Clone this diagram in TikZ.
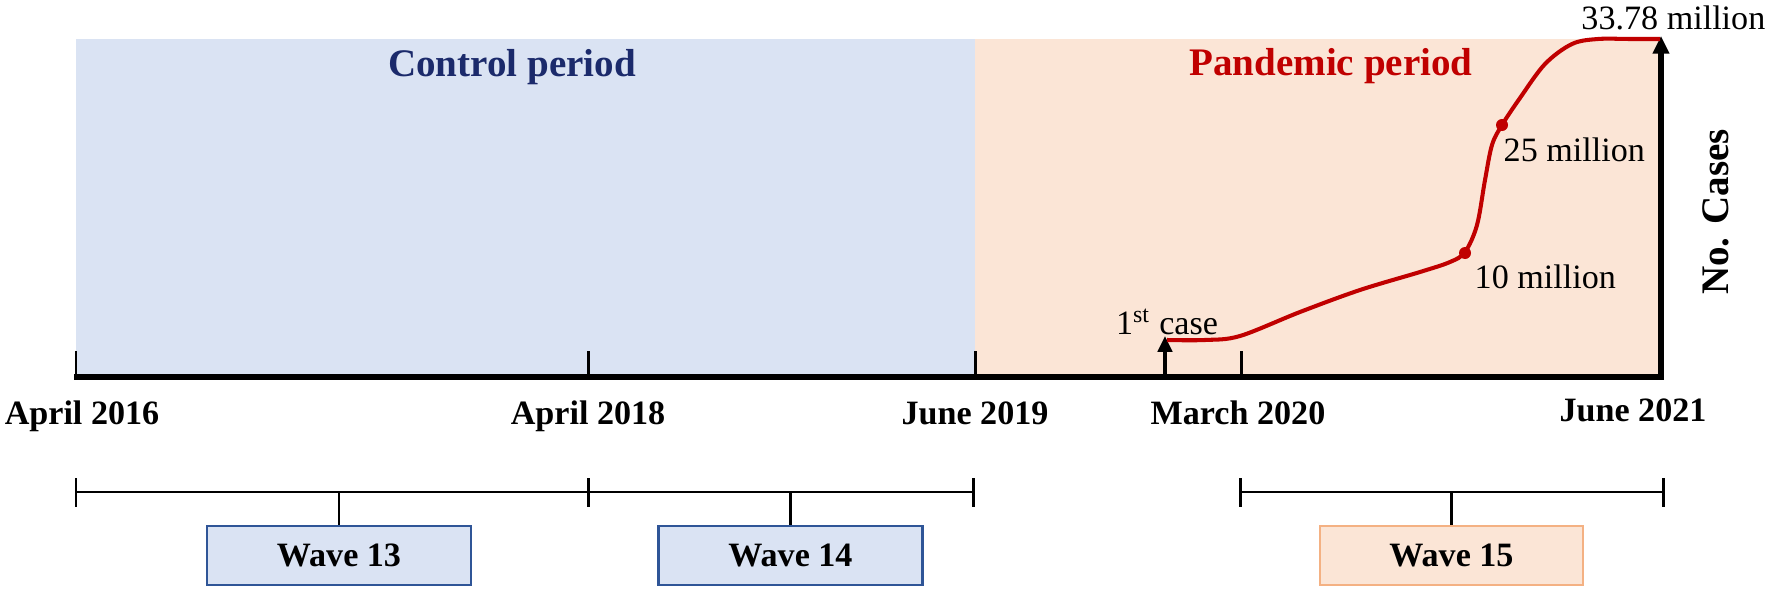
\documentclass[tikz,border=0pt]{standalone}
\usepackage{fontspec}
\setmainfont{Liberation Serif}
\usetikzlibrary{arrows.meta,calc}
\definecolor{ctrlbg}{HTML}{DAE3F3}
\definecolor{pandbg}{HTML}{FBE5D6}
\definecolor{navytxt}{HTML}{1B2A6B}
\definecolor{darkredc}{HTML}{C00000}
\definecolor{boxblue}{HTML}{2F5597}
\definecolor{boxorange}{HTML}{F4B183}
\begin{document}
\begin{tikzpicture}[x=0.01cm,y=-0.01cm,
  bigbold/.style={font=\fontsize{11.1}{13}\selectfont\bfseries, inner sep=0pt},
  datelbl/.style={font=\fontsize{9.7}{11}\selectfont\bfseries, inner sep=0pt, anchor=base},
  normlbl/.style={font=\fontsize{9.7}{11}\selectfont, inner sep=0pt},
  axisline/.style={line width=1.7pt, black},
  tickline/.style={line width=0.85pt, black},
  bracketline/.style={line width=0.85pt, black},
  wavebox/.style={draw, line width=0.8pt, minimum width=2.64cm, minimum height=0.59cm, inner sep=0pt, font=\fontsize{9.7}{11}\selectfont\bfseries},
  curveline/.style={line width=1.15pt, darkredc},
  reddot/.style={circle, fill=darkredc, inner sep=0pt, minimum size=0.12cm}
]
\useasboundingbox (0,0) rectangle (1772,591);
% backgrounds
\fill[ctrlbg] (76,39) rectangle (975,377);
\fill[pandbg] (975,39) rectangle (1661,377);
% axis coordinates
\coordinate (a0) at (76,377);
\coordinate (a1) at (588,377);
\coordinate (a2) at (975,377);
\coordinate (a3) at (1241,377);
\coordinate (aend) at (1661,377);
\coordinate (atop) at (1661,36);
\coordinate (fc) at (1165,377);
\coordinate (fctop) at (1165,336);
% ticks
\foreach \c in {a0,a1,a2,a3}{\draw[tickline] (\c) -- ++(0,-26);}
% first case arrow
\draw[line width=1.4pt, -{Triangle[length=4.5pt,width=4pt]}] (fc) -- (fctop);
% main axis
\draw[axisline] ([xshift=-0.5pt]a0) -- ([xshift=0.85pt]aend);
\draw[line width=1.5pt, -{Triangle[length=5pt,width=4.5pt]}] ([yshift=-0.85pt]aend) -- (atop);
% curve
\draw[curveline] plot[smooth, tension=0.55] coordinates {(1167,340) (1205,340) (1240,336) (1300,312) (1360,290) (1420,272) (1450,262) (1465,252) (1477,225) (1485,180) (1492,145) (1502,125) (1520,98) (1545,64) (1572,44) (1598,39) (1630,39) (1660,39)};
\node[reddot] (d10) at (1465,253) {};
\node[reddot] (d25) at (1502,125) {};
% titles
\node[bigbold, text=navytxt, anchor=base] (ctrl) at (512,77) {Control period};
\node[bigbold, text=darkredc, anchor=base] (pand) at (1331,76) {Pandemic period};
\node[bigbold, rotate=90] (cases) at (1716,212) {No. Cases};
% curve labels
\node[normlbl, anchor=east] (top) at (1766,18) {33.78 million};
\node[normlbl, anchor=west] (l25) at (1503,150) {25 million};
\node[normlbl, anchor=west] (l10) at (1474,277) {10 million};
\node[normlbl] (first) at (1167,322) {1\textsuperscript{st} case};
% dates
\node[datelbl] (d2016) at (82,425) {April 2016};
\node[datelbl] (d2018) at (588,425) {April 2018};
\node[datelbl] (d2019) at (975,425) {June 2019};
\node[datelbl] (d2020) at (1238,425) {March 2020};
\node[datelbl] (d2021) at (1633,421) {June 2021};
% brackets
\coordinate (b0) at (76,492);
\coordinate (b1) at (588,492);
\coordinate (b2) at (973,492);
\coordinate (b3) at (1240,492);
\coordinate (b4) at (1663,492);
\draw[bracketline] (b0) -- (b2);
\draw[bracketline] (b3) -- (b4);
\foreach \c in {b0,b1,b2,b3,b4}{\draw[bracketline] ($(\c)+(0,-14)$) -- ($(\c)+(0,15)$);}
% wave boxes
\node[wavebox, fill=ctrlbg, draw=boxblue] (w13) at (339,555.5) {Wave 13};
\node[wavebox, fill=ctrlbg, draw=boxblue] (w14) at (790.5,555.5) {Wave 14};
\node[wavebox, fill=pandbg, draw=boxorange, minimum width=2.63cm] (w15) at (1451.5,555.5) {Wave 15};
\draw[bracketline] (w13.north |- b0) -- (w13.north);
\draw[bracketline] (w14.north |- b0) -- (w14.north);
\draw[bracketline] (w15.north |- b3) -- (w15.north);
\end{tikzpicture}
\end{document}
